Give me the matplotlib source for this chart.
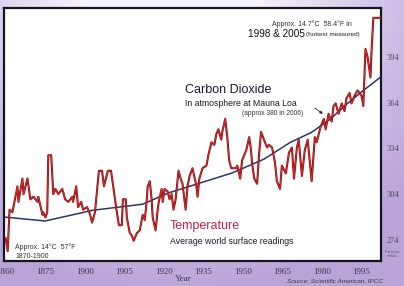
import numpy as np
import matplotlib
matplotlib.use("Agg")
import matplotlib.pyplot as plt
from matplotlib.colors import LinearSegmentedColormap

plt.rcParams['font.family'] = ['Liberation Sans', 'DejaVu Sans']

### DATA
temp_years = [1860.0, 1860.8, 1861.5, 1862.6, 1864.5, 1864.9, 1866.4, 1866.8, 1868.3, 1869.4,
              1870.6, 1872.1, 1872.4, 1874.0, 1874.3, 1875.1, 1875.8, 1876.2, 1877.3, 1878.1,
              1878.9, 1880.0, 1881.5, 1882.6, 1883.8, 1885.3, 1885.6, 1886.8, 1887.5, 1888.7,
              1889.4, 1890.9, 1892.1, 1892.8, 1893.9, 1895.4, 1896.6, 1897.3, 1898.8, 1900.0,
              1901.5, 1902.2, 1903.0, 1904.1, 1904.5, 1905.6, 1906.0, 1907.1, 1907.9, 1908.6,
              1909.8, 1910.9, 1912.0, 1912.8, 1913.5, 1913.9, 1914.7, 1915.4, 1915.8, 1916.9,
              1917.7, 1918.1, 1919.2, 1919.6, 1920.3, 1921.5, 1922.2, 1923.0, 1923.7, 1924.5,
              1925.6, 1926.4, 1927.1, 1928.3, 1929.0, 1929.8, 1930.9, 1932.4, 1932.8, 1933.5,
              1934.7, 1936.2, 1936.9, 1938.1, 1939.2, 1939.9, 1940.7, 1941.8, 1942.2, 1943.3,
              1944.1, 1944.8, 1945.6, 1946.3, 1947.5, 1947.9, 1949.0, 1949.7, 1951.3, 1952.4,
              1953.1, 1953.5, 1954.3, 1955.4, 1956.2, 1956.9, 1958.0, 1959.2, 1959.9, 1961.1,
              1962.2, 1962.9, 1964.1, 1964.8, 1966.3, 1967.5, 1968.6, 1969.4, 1970.5, 1971.2,
              1972.4, 1973.5, 1974.6, 1976.1, 1977.3, 1978.0, 1979.5, 1980.7, 1981.4, 1982.5,
              1983.7, 1984.4, 1985.2, 1986.3, 1987.5, 1988.6, 1989.3, 1990.5, 1991.2, 1992.4,
              1993.5, 1995.0, 1995.7, 1996.5, 1997.3, 1998.4, 1998.8, 1999.5, 2002.4]
temp_c = [13.85, 13.80, 13.96, 13.95, 14.05, 13.99, 14.08, 14.02, 14.08, 14.00,
          14.01, 13.99, 14.01, 13.94, 13.95, 13.93, 13.95, 14.17, 14.17, 14.02,
          14.04, 14.02, 14.04, 14.00, 13.99, 14.01, 13.99, 14.05, 13.97, 13.99,
          13.96, 13.97, 13.94, 13.91, 13.95, 14.11, 14.11, 14.05, 14.11, 14.11,
          14.00, 13.95, 13.90, 13.90, 14.00, 14.00, 13.93, 13.87, 13.86, 13.84,
          13.87, 13.88, 13.94, 13.92, 13.99, 14.05, 14.07, 14.00, 13.93, 13.88,
          13.96, 13.99, 14.04, 13.99, 14.04, 14.03, 14.00, 14.02, 13.96, 14.00,
          14.11, 14.08, 14.06, 13.96, 14.05, 14.09, 14.12, 14.05, 14.01, 14.08,
          14.12, 14.13, 14.17, 14.22, 14.21, 14.25, 14.27, 14.23, 14.26, 14.31,
          14.24, 14.15, 14.12, 14.12, 14.12, 14.13, 14.08, 14.15, 14.19, 14.24,
          14.19, 14.14, 14.08, 14.06, 14.18, 14.26, 14.23, 14.20, 14.21, 14.20,
          14.14, 14.07, 14.04, 14.13, 14.10, 14.18, 14.20, 14.08, 14.20, 14.23,
          14.09, 14.19, 14.23, 14.07, 14.24, 14.22, 14.28, 14.31, 14.27, 14.33,
          14.30, 14.36, 14.37, 14.33, 14.37, 14.34, 14.39, 14.41, 14.37, 14.40,
          14.42, 14.40, 14.36, 14.58, 14.55, 14.47, 14.57, 14.70, 14.70]

co2_years = [1860, 1875, 1893, 1912, 1922, 1934, 1946, 1958, 1968, 1976, 1983, 1989, 1995, 2002.4]
co2_ppm = [289, 286.5, 293.5, 297.5, 305, 311.5, 318, 327, 338, 344.5, 353, 362.5, 371, 381]

tick_years = [1860, 1875, 1890, 1905, 1920, 1935, 1950, 1965, 1980, 1995]
tick_labels = ['1860', '1875', '1900', '1905', '1920', '1935', '1950', '1965', '1980', '1995']
ppm_ticks = [274, 304, 334, 364, 394]

W, H = 404, 286
fig = plt.figure(figsize=(W / 100, H / 100), dpi=100)

### BACKGROUND GRADIENT
bg = fig.add_axes([0, 0, 1, 1], zorder=-10)
yy, xx = np.mgrid[0:H, 0:W]
d = np.sqrt(((xx - 170) / 260.0) ** 2 + ((yy + 30) / 260.0) ** 2)
d = np.clip((d - 0.35) / 0.9, 0, 1)
cmap = LinearSegmentedColormap.from_list('lav', ['#f6f2fa', '#d4c6ea', '#b9a4d8'])
bg.imshow(d, cmap=cmap, aspect='auto', extent=[0, 1, 0, 1], origin='upper')
bg.axis('off')

### MAIN AXES (CO2, right-hand scale)
ax = fig.add_axes([4 / W, 1 - 261 / H, (381 - 4) / W, (261 - 8) / H])
ax.set_facecolor('white')
ax.set_xlim(1859.4, 2002.4)
ax.set_ylim(260.3, 426)
ax.plot(co2_years, co2_ppm, color='#2b3566', lw=1.1, zorder=3)

### TEMPERATURE (hidden twin scale, degrees C)
ax_t = ax.twinx()
ax_t.set_ylim(13.762, 14.738)
ax_t.plot(temp_years, temp_c, color='#8a0f14', lw=1.5, zorder=4)
ax_t.plot(temp_years, temp_c, color='#d8302c', lw=0.6, zorder=5)
ax_t.set_yticks([])
ax_t.set_xlim(1859.4, 2002.4)
for s in ax_t.spines.values():
    s.set_visible(False)

### TICKS (set after twinx, which moves ax ticks to the left)
ax.set_xticks(tick_years)
ax.set_xticklabels(tick_labels, family=['Liberation Serif'], fontsize=6.5, color='#3a3a4a')
ax.yaxis.tick_right()
ax.set_yticks(ppm_ticks)
ax.set_yticklabels([str(v) for v in ppm_ticks], family=['Liberation Serif'], fontsize=6, color='#4a4a5a')
ax.tick_params(axis='both', length=0)
ax.tick_params(axis='y', pad=4)
ax.tick_params(axis='x', pad=5)
for s in ax.spines.values():
    s.set_color('#151520')
    s.set_linewidth(1.6)

def ftext(x, y, s, **kw):
    fig.text(x / W, 1 - y / H, s, **kw)

### ANNOTATIONS
ftext(312, 24, 'Approx. 14.7°C  58.4°F in', fontsize=5, color='#333', ha='center', va='center')
ftext(248, 34, '1998 & 2005', fontsize=7.2, color='#111', ha='left', va='center')
ftext(306, 34.5, '(hottest measured)', fontsize=4.6, color='#222', ha='left', va='center')

ftext(185, 90, 'Carbon Dioxide', fontsize=9, color='#1a1a2a', ha='left', va='center')
ftext(185, 104, 'In atmosphere at Mauna Loa', fontsize=6.3, color='#1a1a2a', ha='left', va='center')
ftext(242, 114, '(approx 380 in 2006)', fontsize=4.8, color='#333', ha='left', va='center')
ax.annotate('', xy=(1981.2, 355.6), xycoords='data',
            xytext=(1976.5, 361.5), textcoords='data',
            arrowprops=dict(arrowstyle='-|>', color='#222', lw=0.6, mutation_scale=4))

ftext(170, 226, 'Temperature', fontsize=9, color='#cc1f4a', ha='left', va='center')
ftext(170, 241, 'Average world surface readings', fontsize=6.3, color='#1a1a2a', ha='left', va='center')

ftext(15, 247, 'Approx. 14°C  57°F', fontsize=5, color='#333', ha='left', va='center')
ftext(15, 257, '1870-1900', fontsize=5, color='#333', ha='left', va='center')

ftext(183, 279, 'Year', fontsize=6.5, color='#3a3a4a', ha='center', va='center',
      family=['Liberation Serif'])
ftext(383, 281, 'Source: Scientific American, IPCC', fontsize=4.6, color='#3a3a4a',
      ha='right', va='center', style='italic')
ftext(392, 254, 'Parts per\nmillion', fontsize=2.6, color='#555', ha='center', va='center',
      linespacing=1.0)

fig.savefig('out.png', dpi=100)
